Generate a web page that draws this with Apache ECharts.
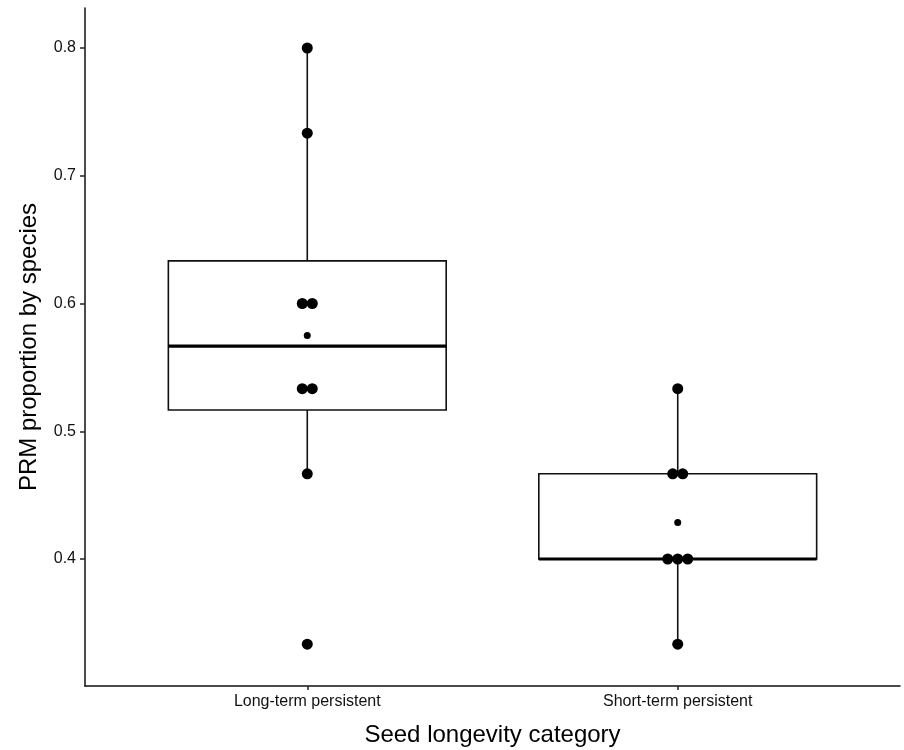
<!DOCTYPE html>
<html>
<head>
<meta charset="utf-8">
<script src="https://cdn.jsdelivr.net/npm/echarts@6/dist/echarts.min.js"></script>
<style>
  html, body { margin: 0; padding: 0; background: #fff; }
  #chart { width: 904px; height: 750px; }
</style>
</head>
<body>
<div id="chart"></div>
<script>
// ---- data ----
var categories = ['Long-term persistent', 'Short-term persistent'];
var longTermValues = [0.8, 0.7333, 0.6, 0.6, 0.5333, 0.5333, 0.4667, 0.3333];
var shortTermValues = [0.5333, 0.4667, 0.4667, 0.4, 0.4, 0.4, 0.3333];
var yTickValues = [0.4, 0.5, 0.6, 0.7, 0.8];
var groups = [longTermValues, shortTermValues];

// ---- stats (ggplot-style: type-7 quantiles, Tukey whiskers) ----
function quantile(sorted, p) {
  var h = (sorted.length - 1) * p, lo = Math.floor(h), hi = Math.ceil(h);
  return sorted[lo] + (h - lo) * (sorted[hi] - sorted[lo]);
}
function boxStats(vals) {
  var s = vals.slice().sort(function (a, b) { return a - b; });
  var q1 = quantile(s, 0.25), med = quantile(s, 0.5), q3 = quantile(s, 0.75);
  var iqr = q3 - q1, lf = q1 - 1.5 * iqr, uf = q3 + 1.5 * iqr;
  var inside = s.filter(function (v) { return v >= lf - 1e-9 && v <= uf + 1e-9; });
  return [inside[0], q1, med, q3, inside[inside.length - 1]];
}
function mean(vals) { return vals.reduce(function (a, b) { return a + b; }, 0) / vals.length; }

var boxData = groups.map(function (g, i) { return [i + 1].concat(boxStats(g)); });
var meanData = groups.map(function (g, i) { return [i + 1, mean(g)]; });

var DOT = 11, DOT_STEP = 10;
var dotData = [];
groups.forEach(function (g, i) {
  var counts = {}, seen = {};
  g.forEach(function (v) { counts[v] = (counts[v] || 0) + 1; });
  g.forEach(function (v) {
    var k = seen[v] || 0; seen[v] = k + 1;
    var off = (k - (counts[v] - 1) / 2) * DOT_STEP;
    dotData.push({ value: [i + 1, v], symbolOffset: [off, 0] });
  });
});

var FONT = '"Liberation Sans", Arial, Helvetica, sans-serif';
var BOX_W = 0.75;

var chart = echarts.init(document.getElementById('chart'), null, { renderer: 'canvas' });
chart.setOption({
  animation: false,
  backgroundColor: '#ffffff',
  grid: { left: 85, right: 4, top: 8, bottom: 64, containLabel: false, outerBoundsMode: 'none' },
  xAxis: {
    type: 'value',
    min: 0.4, max: 2.6,
    name: 'Seed longevity category',
    nameLocation: 'middle',
    nameGap: 37,
    nameTextStyle: { fontFamily: FONT, fontSize: 24, color: '#000' },
    axisLine: { show: true, onZero: false, lineStyle: { color: '#111', width: 1.5 } },
    axisTick: { show: true, length: 4, customValues: [1, 2], lineStyle: { color: '#222', width: 1.5 } },
    axisLabel: {
      customValues: [1, 2],
      margin: 8,
      fontFamily: FONT, fontSize: 16, color: '#111',
      formatter: function (v) { return categories[Math.round(v) - 1] || ''; }
    },
    splitLine: { show: false }
  },
  yAxis: {
    type: 'value',
    min: 0.3006, max: 0.8313,
    name: 'PRM proportion by species',
    nameLocation: 'middle',
    nameGap: 44,
    nameRotate: 90,
    nameTextStyle: { fontFamily: FONT, fontSize: 24, color: '#000' },
    axisLine: { show: true, onZero: false, lineStyle: { color: '#111', width: 1.5 } },
    axisTick: { show: true, length: 5, customValues: yTickValues, lineStyle: { color: '#222', width: 1.5 } },
    axisLabel: {
      customValues: yTickValues,
      margin: 9,
      fontFamily: FONT, fontSize: 16, color: '#111',
      formatter: function (v) { return v.toFixed(1); }
    },
    splitLine: { show: false }
  },
  series: [
    {
      type: 'custom',
      data: boxData,
      encode: { x: 0, y: [1, 2, 3, 4, 5] },
      z: 1,
      renderItem: function (params, api) {
        var x = api.value(0);
        var lo = api.coord([x, api.value(1)]);
        var q1 = api.coord([x, api.value(2)]);
        var med = api.coord([x, api.value(3)]);
        var q3 = api.coord([x, api.value(4)]);
        var hi = api.coord([x, api.value(5)]);
        var w = api.size([BOX_W, 0])[0];
        var cx = lo[0];
        var stroke = { stroke: '#111', lineWidth: 1.6 };
        return {
          type: 'group',
          children: [
            { type: 'line', shape: { x1: cx, y1: hi[1], x2: cx, y2: q3[1] }, style: stroke },
            { type: 'line', shape: { x1: cx, y1: q1[1], x2: cx, y2: lo[1] }, style: stroke },
            { type: 'rect', shape: { x: cx - w / 2, y: q3[1], width: w, height: q1[1] - q3[1] },
              style: { fill: '#fff', stroke: '#111', lineWidth: 1.6 } },
            { type: 'line', shape: { x1: cx - w / 2, y1: med[1], x2: cx + w / 2, y2: med[1] },
              style: { stroke: '#000', lineWidth: 3.2 } }
          ]
        };
      }
    },
    {
      type: 'scatter',
      data: dotData,
      symbol: 'circle',
      symbolSize: DOT,
      itemStyle: { color: '#000', opacity: 1 },
      z: 3
    },
    {
      type: 'scatter',
      data: meanData,
      symbol: 'circle',
      symbolSize: 7,
      itemStyle: { color: '#000', opacity: 1 },
      z: 3
    }
  ]
});
</script>
</body>
</html>
